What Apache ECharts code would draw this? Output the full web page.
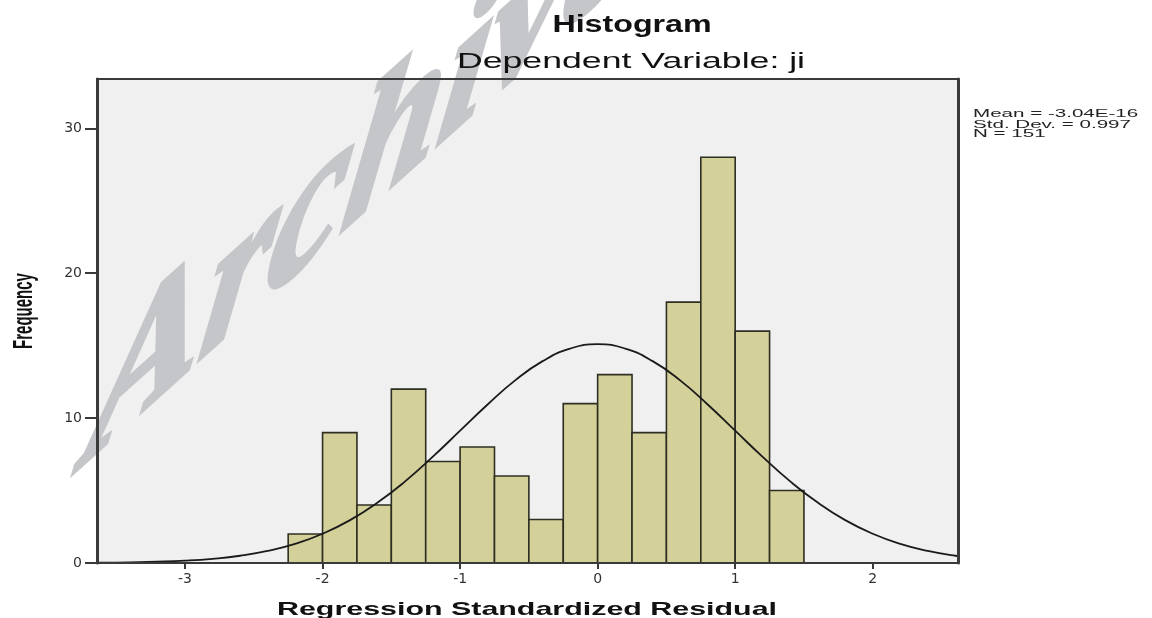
<!DOCTYPE html>
<html><head><meta charset="utf-8">
<script src="https://cdn.jsdelivr.net/npm/echarts@6/dist/echarts.min.js"></script>
<style>html,body{margin:0;padding:0;background:#fff}#c{width:1152px;height:618px}</style>
</head><body><div id="c"></div>
<script>
// ---- data ----
const binStarts = [-2.25, -2.0, -1.75, -1.5, -1.25, -1.0, -0.75, -0.5, -0.25, 0.0, 0.25, 0.5, 0.75, 1.0, 1.25];
const binWidth = 0.25;
const frequencies = [2, 9, 4, 12, 7, 8, 6, 3, 11, 13, 9, 18, 28, 16, 5];
const curveX = [-3.8, -3.6, -3.4, -3.2, -3.0, -2.8, -2.6, -2.4, -2.2, -2.0, -1.8, -1.6, -1.4, -1.2, -1.0, -0.8, -0.6, -0.4, -0.2, 0.0,
                0.2, 0.4, 0.6, 0.8, 1.0, 1.2, 1.4, 1.6, 1.8, 2.0, 2.2, 2.4, 2.6, 2.8];
const curveY = [0.01, 0.02, 0.05, 0.09, 0.16, 0.29, 0.50, 0.83, 1.32, 2.02, 2.96, 4.17, 5.63, 7.32, 9.13, 10.94, 12.60, 13.93, 14.80, 15.10,
                14.80, 13.93, 12.60, 10.94, 9.13, 7.32, 5.63, 4.17, 2.96, 2.02, 1.32, 0.83, 0.50, 0.29];
const xTickValues = [-3, -2, -1, 0, 1, 2];
const yTickValues = [0, 10, 20, 30];
const titleText = 'Histogram';
const subtitleText = 'Dependent Variable: ji';
const xAxisTitle = 'Regression Standardized Residual';
const yAxisTitle = 'Frequency';
const statsLines = ['Mean = -3.04E-16', 'Std. Dev. = 0.997', 'N = 151'];
const watermarkText = 'Archive';

// ---- chart ----
const XMIN = -3.64, XMAX = 2.62, YMIN = 0, YMAX = 33.4;
const AX = '#3a3a3a';
const chart = echarts.init(document.getElementById('c'), null, {renderer: 'canvas'});

function txt(x, y, sx, text, font, align, fill) {
  return {type: 'text', x: x, y: y, scaleX: sx, z: 20,
    style: {text: text, font: font, fill: fill || '#111', align: align, textAlign: align,
            verticalAlign: 'middle', textVerticalAlign: 'middle'}};
}

// Watermark: an affine (sheared) placement built from rotation-scale-rotation
function affineText(ox, oy, c1, c2, textEl) {
  const a = c1[0], c = c1[1], b = c2[0], d = c2[1];
  const E = (a + d) / 2, F = (a - d) / 2, G = (c + b) / 2, H = (c - b) / 2;
  const Q = Math.hypot(E, H), R = Math.hypot(F, G);
  const s1 = Q + R, s2 = Q - R;
  const a1 = Math.atan2(G, F), a2 = Math.atan2(H, E);
  const th = (a2 - a1) / 2, ph = (a2 + a1) / 2;
  textEl.rotation = -th;
  return {type: 'group', x: ox, y: oy, rotation: -ph, z: 1, children: [
    {type: 'group', scaleX: s1, scaleY: s2, z: 1, children: [textEl]}
  ]};
}
const deg = Math.PI / 180;
const wmBase = 42 * deg, wmUp = 80 * deg, wmL1 = 1.15, wmL2 = 1.0;
const watermark = affineText(74, 512,
  [wmL1 * Math.cos(wmBase), -wmL1 * Math.sin(wmBase)],
  [-wmL2 * Math.cos(wmUp), wmL2 * Math.sin(wmUp)],
  {type: 'text', z: 1, style: {text: watermarkText, font: 'italic bold 200px "Liberation Serif"', fill: '#c4c6c9',
    stroke: '#c4c6c9', lineWidth: 6,
    align: 'left', textAlign: 'left', verticalAlign: 'bottom', textVerticalAlign: 'bottom'}});

const graphics = [
  watermark,
  txt(632, 26, 1.4, titleText, 'bold 23px "Liberation Sans"', 'center'),
  txt(631, 62, 1.62, subtitleText, '22px "Liberation Sans"', 'center'),
  txt(527, 610, 1.6, xAxisTitle, 'bold 19px "Liberation Sans"', 'center'),
  {type: 'group', x: 25, y: 311, scaleX: 1.8, z: 20, children: [
    {type: 'text', rotation: Math.PI / 2, z: 20,
     style: {text: yAxisTitle, font: 'bold 15px "Liberation Sans"', fill: '#111',
             align: 'center', textAlign: 'center', verticalAlign: 'middle', textVerticalAlign: 'middle'}}
  ]},
  txt(973, 114, 1.87, statsLines[0], '11px "Liberation Sans"', 'left', '#222'),
  txt(973, 124.5, 1.87, statsLines[1], '11px "Liberation Sans"', 'left', '#222'),
  txt(973, 133.5, 1.87, statsLines[2], '11px "Liberation Sans"', 'left', '#222')
];

const option = {
  animation: false,
  backgroundColor: '#ffffff',
  grid: {left: 97, top: 79, width: 861, height: 484, show: true, backgroundColor: '#f0f0f0', borderWidth: 0, z: 0},
  xAxis: [
    {type: 'value', min: XMIN, max: XMAX, position: 'bottom', z: 10,
     axisLine: {show: true, onZero: false, lineStyle: {color: AX, width: 2}},
     axisTick: {show: true, length: 6, customValues: xTickValues, lineStyle: {color: AX, width: 2}},
     axisLabel: {show: true, customValues: xTickValues, margin: 9, fontSize: 14, fontFamily: 'DejaVu Sans', color: '#333'},
     splitLine: {show: false}},
    {type: 'value', min: XMIN, max: XMAX, position: 'top', z: 10,
     axisLine: {show: true, onZero: false, lineStyle: {color: AX, width: 2}},
     axisTick: {show: false}, axisLabel: {show: false}, splitLine: {show: false}}
  ],
  yAxis: [
    {type: 'value', min: YMIN, max: YMAX, position: 'left', z: 10,
     axisLine: {show: true, onZero: false, lineStyle: {color: AX, width: 3}},
     axisTick: {show: true, length: 12, customValues: yTickValues, lineStyle: {color: AX, width: 2}},
     axisLabel: {show: true, customValues: yTickValues, margin: 15, fontSize: 14, fontFamily: 'DejaVu Sans', color: '#333'},
     splitLine: {show: false}},
    {type: 'value', min: YMIN, max: YMAX, position: 'right', z: 10,
     axisLine: {show: true, onZero: false, lineStyle: {color: AX, width: 3}},
     axisTick: {show: false}, axisLabel: {show: false}, splitLine: {show: false}}
  ],
  series: [
    {type: 'custom', xAxisIndex: 0, yAxisIndex: 0, z: 2,
     data: binStarts.map((s, i) => [s, s + binWidth, frequencies[i]]),
     encode: {x: [0, 1], y: 2},
     renderItem: function (params, api) {
       const p0 = api.coord([api.value(0), 0]);
       const p1 = api.coord([api.value(1), api.value(2)]);
       return {type: 'rect',
         shape: {x: p0[0], y: p1[1], width: p1[0] - p0[0], height: p0[1] - p1[1]},
         style: {fill: '#d4d09a', stroke: '#2e2e22', lineWidth: 1.6}};
     }},
    {type: 'line', xAxisIndex: 0, yAxisIndex: 0, z: 3, smooth: true, showSymbol: false, clip: true,
     data: curveX.map((x, i) => [x, curveY[i]]),
     lineStyle: {color: '#1a1a1a', width: 1.8}}
  ],
  graphic: graphics
};
chart.setOption(option);
</script>
</body></html>
